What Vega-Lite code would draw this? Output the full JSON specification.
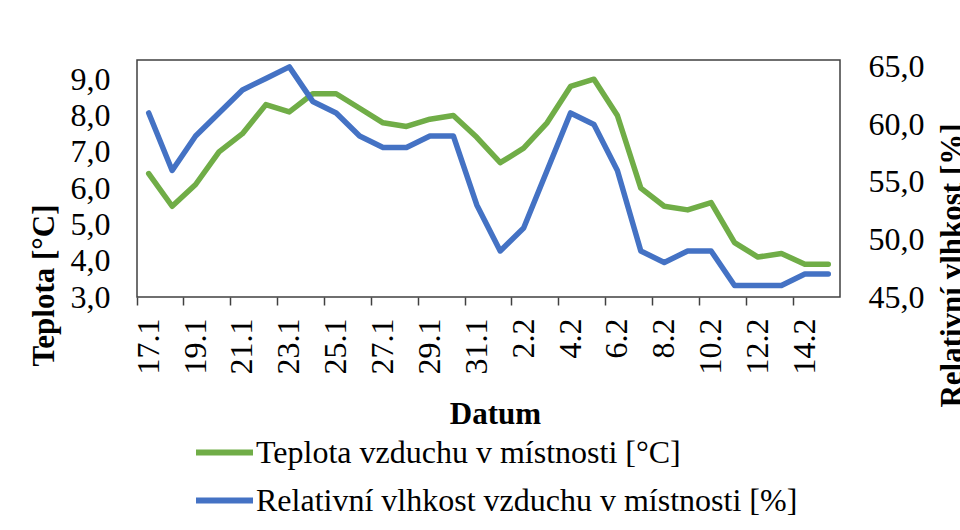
{
  "$schema": "https://vega.github.io/schema/vega-lite/v6.json",
  "width": 703,
  "height": 237,
  "autosize": {"type": "none"},
  "padding": {"left": 137, "top": 60, "right": 120, "bottom": 233},
  "background": "white",
  "config": {
    "font": "Liberation Serif",
    "view": {"stroke": "#404040", "strokeWidth": 1.5},
    "axis": {"labelFont": "Liberation Serif", "titleFont": "Liberation Serif", "labelColor": "#000000", "titleColor": "#000000", "grid": false}
  },
  "data": {
    "values": [
      {"d": "17.1", "t": 6.4, "h": 61},
      {"d": "18.1", "t": 5.5, "h": 56},
      {"d": "19.1", "t": 6.1, "h": 59},
      {"d": "20.1", "t": 7.0, "h": 61},
      {"d": "21.1", "t": 7.5, "h": 63},
      {"d": "22.1", "t": 8.3, "h": 64},
      {"d": "23.1", "t": 8.1, "h": 65},
      {"d": "24.1", "t": 8.6, "h": 62},
      {"d": "25.1", "t": 8.6, "h": 61},
      {"d": "26.1", "t": 8.2, "h": 59},
      {"d": "27.1", "t": 7.8, "h": 58},
      {"d": "28.1", "t": 7.7, "h": 58},
      {"d": "29.1", "t": 7.9, "h": 59},
      {"d": "30.1", "t": 8.0, "h": 59},
      {"d": "31.1", "t": 7.4, "h": 53},
      {"d": "1.2", "t": 6.7, "h": 49},
      {"d": "2.2", "t": 7.1, "h": 51},
      {"d": "3.2", "t": 7.8, "h": 56},
      {"d": "4.2", "t": 8.8, "h": 61},
      {"d": "5.2", "t": 9.0, "h": 60},
      {"d": "6.2", "t": 8.0, "h": 56},
      {"d": "7.2", "t": 6.0, "h": 49},
      {"d": "8.2", "t": 5.5, "h": 48},
      {"d": "9.2", "t": 5.4, "h": 49},
      {"d": "10.2", "t": 5.6, "h": 49},
      {"d": "11.2", "t": 4.5, "h": 46},
      {"d": "12.2", "t": 4.1, "h": 46},
      {"d": "13.2", "t": 4.2, "h": 46},
      {"d": "14.2", "t": 3.9, "h": 47},
      {"d": "15.2", "t": 3.9, "h": 47}
    ]
  },
  "layer": [
    {
      "mark": {"type": "line", "strokeWidth": 5.5, "strokeCap": "round", "strokeJoin": "round"},
      "encoding": {
        "x": {
          "field": "d", "type": "ordinal", "sort": null,
          "scale": {"type": "band", "paddingInner": 0, "paddingOuter": 0},
          "axis": {
            "orient": "bottom",
            "values": ["17.1", "19.1", "21.1", "23.1", "25.1", "27.1", "29.1", "31.1", "2.2", "4.2", "6.2", "8.2", "10.2", "12.2", "14.2"],
            "ticks": false, "domain": false,
            "labelAngle": -90, "labelFontSize": 32, "labelPadding": 21,
            "title": "Datum", "titleFontSize": 31, "titleFontWeight": "bold",
            "titleX": 358, "titleY": 126, "titleBaseline": "alphabetic", "titleAlign": "center"
          }
        },
        "y": {
          "field": "t", "type": "quantitative",
          "scale": {"domain": [3, 9.53], "nice": false, "zero": false},
          "axis": {
            "values": [3, 4, 5, 6, 7, 8, 9],
            "labelExpr": "replace(format(datum.value, '.1f'), '.', ',')",
            "ticks": false, "domain": false, "labelPadding": 27, "labelFontSize": 32,
            "title": "Teplota [°C]", "titleFontSize": 31, "titleFontWeight": "bold",
            "titleAngle": 270, "titleX": -84, "titleY": 225, "titleBaseline": "alphabetic", "titleAlign": "center"
          }
        },
        "color": {
          "datum": "Teplota vzduchu  v místnosti [°C]", "type": "nominal",
          "scale": {"domain": ["Teplota vzduchu  v místnosti [°C]", "Relativní vlhkost vzduchu v místnosti [%]"], "range": ["#70AD47", "#4472C4"]},
          "legend": {
            "orient": "none", "legendX": 56, "legendY": 361, "direction": "vertical",
            "title": null, "symbolType": "stroke", "symbolSize": 3249, "symbolStrokeWidth": 6,
            "labelFont": "Liberation Serif", "labelFontSize": 32, "labelColor": "#000000",
            "labelOffset": 0, "labelLimit": 0, "rowPadding": -19, "padding": 0
          }
        }
      }
    },
    {
      "mark": {"type": "line", "strokeWidth": 5.5, "strokeCap": "round", "strokeJoin": "round"},
      "encoding": {
        "x": {
          "field": "d", "type": "ordinal", "sort": null,
          "scale": {"type": "band", "paddingInner": 0, "paddingOuter": 0},
          "axis": {
            "orient": "bottom",
            "values": ["17.1", "19.1", "21.1", "23.1", "25.1", "27.1", "29.1", "31.1", "2.2", "4.2", "6.2", "8.2", "10.2", "12.2", "14.2"],
            "bandPosition": 0, "labels": false, "domain": false,
            "ticks": true, "tickSize": 8, "tickWidth": 1.5, "tickColor": "#404040",
            "title": null
          }
        },
        "y": {
          "field": "h", "type": "quantitative",
          "scale": {"domain": [45, 65.6], "nice": false, "zero": false},
          "axis": {
            "orient": "right",
            "values": [45, 50, 55, 60, 65],
            "labelExpr": "replace(format(datum.value, '.1f'), '.', ',')",
            "ticks": false, "domain": false, "labelPadding": 28, "labelFontSize": 32,
            "title": "Relativní vlhkost [%]", "titleFontSize": 31, "titleFontWeight": "bold",
            "titleAngle": 270, "titleX": 121, "titleY": 205, "titleBaseline": "alphabetic", "titleAlign": "center"
          }
        },
        "color": {"datum": "Relativní vlhkost vzduchu v místnosti [%]", "type": "nominal"}
      }
    }
  ],
  "resolve": {"scale": {"y": "independent"}, "axis": {"x": "independent"}}
}
